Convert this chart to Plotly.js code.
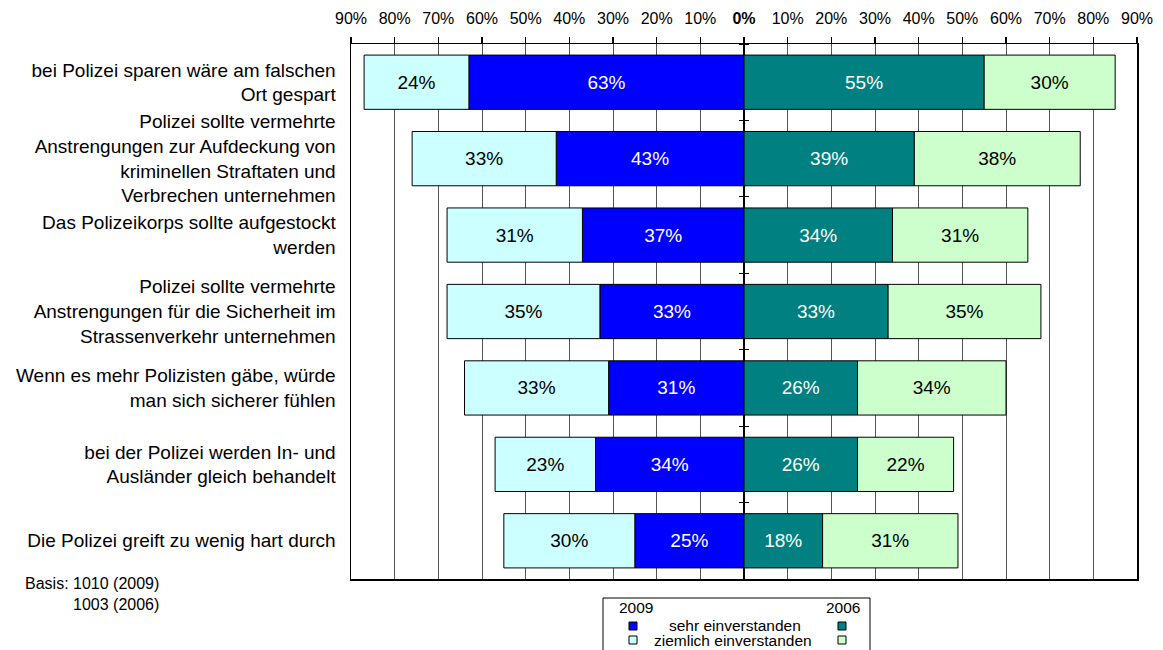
<!DOCTYPE html>
<html>
<head>
<meta charset="utf-8">
<script src="https://cdn.plot.ly/plotly-3.0.1.min.js"></script>
<style>
html,body{margin:0;padding:0;background:#fff;}
#chart{width:1163px;height:650px;}
</style>
</head>
<body>
<div id="chart"></div>
<script>
const categories = [
  "bei Polizei sparen wäre am falschen<br>Ort gespart",
  "Polizei sollte vermehrte<br>Anstrengungen zur Aufdeckung von<br>kriminellen Straftaten und<br>Verbrechen unternehmen",
  "Das Polizeikorps sollte aufgestockt<br>werden",
  "Polizei sollte vermehrte<br>Anstrengungen für die Sicherheit im<br>Strassenverkehr unternehmen",
  "Wenn es mehr Polizisten gäbe, würde<br>man sich sicherer fühlen",
  "bei der Polizei werden In- und<br>Ausländer gleich behandelt",
  "Die Polizei greift zu wenig hart durch"
];
const sehr2009 = [63, 43, 37, 33, 31, 34, 25];
const ziemlich2009 = [24, 33, 31, 35, 33, 23, 30];
const sehr2006 = [55, 39, 34, 33, 26, 26, 18];
const ziemlich2006 = [30, 38, 31, 35, 34, 22, 31];
const tickVals = [-90, -80, -70, -60, -50, -40, -30, -20, -10, 0, 10, 20, 30, 40, 50, 60, 70, 80, 90];
const tickText = ["90%", "80%", "70%", "60%", "50%", "40%", "30%", "20%", "10%", "<b>0%</b>", "10%", "20%", "30%", "40%", "50%", "60%", "70%", "80%", "90%"];
const seriesNames = ["sehr einverstanden", "ziemlich einverstanden"];
const yearLabels = ["2009", "2006"];
const basisText = "Basis: 1010 (2009)<br>1003 (2006)";

const COL = {s09: "#0000FF", z09: "#CCFFFF", s06: "#008080", z06: "#CCFFCC"};
const FONT = "Liberation Sans, Arial, sans-serif";

// plot area in pixels
const L = 351, R = 1137, T = 44, B = 579, W = 1163, H = 650;
const px = v => (v - L) / (R - L);
const py = v => (B - v) / (B - T);

function barTrace(vals, neg, color, txtColor, yaxis) {
  return {
    type: "bar", orientation: "h",
    y: categories,
    x: vals.map(v => neg ? -v : v),
    text: vals.map(v => v + "%"),
    textposition: "inside", insidetextanchor: "middle", textangle: 0,
    constraintext: "none",
    insidetextfont: {family: FONT, size: 19, color: txtColor},
    marker: {color: color, line: {color: "#000", width: 1}},
    yaxis: yaxis, hoverinfo: "skip", showlegend: false
  };
}

const data = [
  barTrace(sehr2009, true, COL.s09, "#fff", "y"),
  barTrace(ziemlich2009, true, COL.z09, "#000", "y"),
  barTrace(sehr2006, false, COL.s06, "#fff", "y3"),
  barTrace(ziemlich2006, false, COL.z06, "#000", "y3")
];

const shapes = [];
const annotations = [];
// legend box
shapes.push({type: "rect", xref: "paper", yref: "paper", x0: px(603), x1: px(870), y0: py(598), y1: py(660),
  line: {color: "#000", width: 1}, fillcolor: "rgba(0,0,0,0)"});
const sq = 4;
[[633, 626, COL.s09], [842, 626, COL.s06], [633, 640, COL.z09], [842, 640, COL.z06]].forEach(s => {
  shapes.push({type: "rect", xref: "paper", yref: "paper",
    x0: px(s[0] - sq), x1: px(s[0] + sq), y0: py(s[1] + sq), y1: py(s[1] - sq),
    line: {color: "#000", width: 1}, fillcolor: s[2]});
});
const lf = {family: FONT, size: 15.5, color: "#000"};
annotations.push({xref: "paper", yref: "paper", x: px(636), y: py(607), text: yearLabels[0], showarrow: false, font: lf, xanchor: "center", yanchor: "middle"});
annotations.push({xref: "paper", yref: "paper", x: px(843), y: py(607), text: yearLabels[1], showarrow: false, font: lf, xanchor: "center", yanchor: "middle"});
annotations.push({xref: "paper", yref: "paper", x: px(735), y: py(625), text: seriesNames[0], showarrow: false, font: lf, xanchor: "center", yanchor: "middle"});
annotations.push({xref: "paper", yref: "paper", x: px(733), y: py(640), text: seriesNames[1], showarrow: false, font: lf, xanchor: "center", yanchor: "middle"});
annotations.push({xref: "paper", yref: "paper", x: px(161), y: py(594), text: basisText, showarrow: false,
  font: {family: FONT, size: 16, color: "#000"}, xanchor: "right", yanchor: "middle", align: "right"});

const yCommon = {type: "category", categoryorder: "array", categoryarray: categories, range: [6.5, -0.5], fixedrange: true};

const layout = {
  width: W, height: H,
  margin: {l: L, r: W - R, t: T, b: H - B, pad: 0},
  paper_bgcolor: "#fff", plot_bgcolor: "#fff",
  font: {family: FONT, size: 16, color: "#000"},
  barmode: "relative", bargap: 0.29,
  hovermode: false,
  showlegend: false,
  xaxis: {
    range: [-90, 90], side: "top", tickvals: tickVals, ticktext: tickText,
    ticks: "outside", ticklen: 6, tickcolor: "#000", tickwidth: 1.5,
    tickfont: {family: FONT, size: 16, color: "#000"},
    ticklabelstandoff: 6,
    showgrid: true, gridcolor: "#555", gridwidth: 1,
    zeroline: true, zerolinecolor: "#000", zerolinewidth: 1.5,
    showline: true, linecolor: "#000", linewidth: 1.5, mirror: true,
    fixedrange: true
  },
  yaxis: Object.assign({}, yCommon, {
    showline: true, linecolor: "#000", linewidth: 1.5, mirror: true,
    ticks: "", showgrid: false, zeroline: false,
    tickfont: {family: FONT, size: 19, color: "#000"},
    ticklabelstandoff: 10
  }),
  yaxis3: Object.assign({}, yCommon, {
    overlaying: "y", anchor: "free", position: px(749), side: "left",
    showticklabels: false, ticks: "outside", ticklen: 10, tickwidth: 1, tickcolor: "#000",
    tickson: "boundaries", showline: false, showgrid: false, zeroline: false
  }),
  shapes: shapes,
  annotations: annotations
};

Plotly.newPlot("chart", data, layout, {displayModeBar: false, staticPlot: true});
</script>
</body>
</html>
